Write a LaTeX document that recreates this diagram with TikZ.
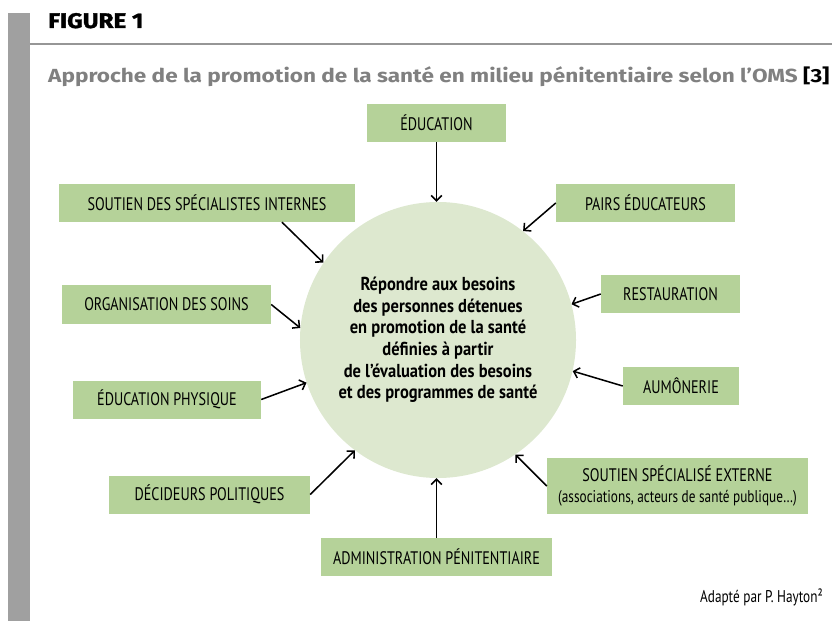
\documentclass[tikz,border=0pt]{standalone}
\usepackage{fontspec}
\usepackage{tikz}
\usetikzlibrary{arrows.meta,calc}
\newfontfamily\condfont[FakeStretch=0.78]{PT Sans}
\newfontfamily\hubfont[FakeStretch=0.88]{PT Sans}
\newfontfamily\headfont[FakeStretch=1.19]{Fira Sans}
\newfontfamily\figfont[FakeStretch=1.15,BoldFeatures={FakeBold=1.5}]{Fira Sans}
\definecolor{boxgreen}{RGB}{181,210,153}
\definecolor{hubgreen}{RGB}{221,232,207}
\definecolor{bargrey}{RGB}{160,160,160}
\definecolor{rulegrey}{RGB}{150,150,150}
\definecolor{titlegrey}{RGB}{128,128,128}

\begin{document}
\begin{tikzpicture}[x=0.03cm,y=-0.03cm,
    box/.style={fill=boxgreen,minimum height=1.14cm,inner sep=0pt,font=\condfont\fontsize{15.5}{18}\selectfont},
    feed/.style={-{Straight Barb[length=4.5pt,width=9pt]},line width=1.3pt}]
        \useasboundingbox (0,0) rectangle (832,621);
        \fill[bargrey] (8,13) rectangle (30,621);
        \draw[rulegrey,line width=1.7pt] (30,44) -- (832,44);
        \node[anchor=base west,inner sep=0pt,font=\figfont\bfseries\fontsize{18}{21}\selectfont] (fig) at (48,28) {FIGURE 1};
        \node[anchor=base west,inner sep=0pt,text=titlegrey,font=\headfont\bfseries\fontsize{16.2}{19}\selectfont] (titre) at (48,83) {Approche de la promotion de la santé en milieu pénitentiaire selon l’OMS \textcolor{black}{[3]}};
        \node[circle,fill=hubgreen,minimum size=8.28cm,inner sep=0pt,align=center,font=\hubfont\bfseries\fontsize{16}{18.4}\selectfont] (hub) at (438,340) {Répondre aux besoins\\des personnes détenues\\en promotion de la santé\\définies à partir\\de l’évaluation des besoins\\et des programmes de santé};
        \node[box,minimum width=4.17cm] (edu) at (436.5,123) {ÉDUCATION};
        \node[box,minimum width=5.37cm] (pairs) at (645.5,203) {PAIRS ÉDUCATEURS};
        \node[box,minimum width=8.88cm] (interne) at (207,203) {SOUTIEN DES SPÉCIALISTES INTERNES};
        \node[box,minimum width=6.27cm] (soins) at (166.5,304.5) {ORGANISATION DES SOINS};
        \node[box,minimum width=4.17cm] (resto) at (670.5,294) {RESTAURATION};
        \node[box,minimum width=5.64cm] (sport) at (167,399.5) {ÉDUCATION PHYSIQUE};
        \node[box,minimum width=3.48cm] (aumo) at (681,386) {AUMÔNERIE};
        \node[box,minimum width=6.03cm] (decid) at (209.5,494.5) {DÉCIDEURS POLITIQUES};
        \node[box,minimum width=7.83cm,minimum height=1.68cm,align=center] (externe) at (677.5,486) {SOUTIEN SPÉCIALISÉ EXTERNE\\{\fontsize{14.5}{18}\selectfont (associations, acteurs de santé publique…)}};
        \node[box,minimum width=6.93cm] (admin) at (436.5,557) {ADMINISTRATION PÉNITENTIAIRE};
        \node[anchor=base east,inner sep=0pt,font=\condfont\fontsize{14.5}{17}\selectfont] (source) at (823,602) {Adapté par P. Hayton²};
        \path[feed] (edu.south) edge (edu.south |- hub.north);
        \path[feed] (pairs.west) edge (hub.52);
        \path[feed] ($(interne.south)+(75,0)$) edge (hub.146);
        \path[feed] (soins.east) edge (hub.175);
        \path[feed] (sport.east) edge (hub.198);
        \path[feed] (decid.east) edge (hub.233);
        \path[feed] (admin.north) edge (admin.north |- hub.south);
        \path[feed] (externe.west) edge (hub.304);
        \path[feed] (aumo.west) edge (hub.347);
        \path[feed] (resto.west) edge (hub.15);
    \end{tikzpicture}
\end{document}
